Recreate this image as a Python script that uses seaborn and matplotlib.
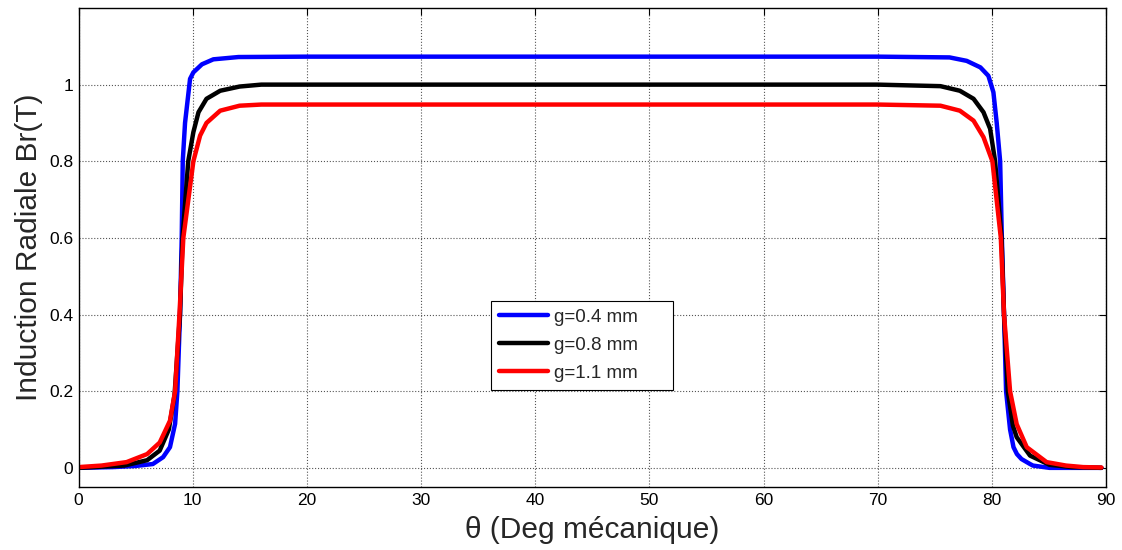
import pandas as pd
import matplotlib
matplotlib.use("Agg")
from matplotlib import pyplot as plt
import seaborn as sns

# Courbes (theta en degrés mécaniques, Br en T)
plateau_x = [20, 30, 40, 50, 60, 70]

x_04 = [0, 3, 5, 6.5, 7.4, 8.0, 8.45, 8.65, 8.88, 9.03, 9.12, 9.32, 9.76, 10.05,
        10.8, 11.8, 14] + plateau_x + [76.3, 77.8, 79.0, 79.7, 80.14, 80.43, 80.73,
        80.88, 81.07, 81.25, 81.6, 81.9, 82.2, 82.6, 83.35, 83.6, 85.05, 87, 89.6]
br_04 = [0.0, 0.002, 0.005, 0.01, 0.028, 0.054, 0.115, 0.2, 0.4, 0.6, 0.8, 0.9, 1.015, 1.032,
         1.053, 1.066, 1.072] + [1.073] * 6 + [1.071, 1.062, 1.045, 1.023, 0.98, 0.90, 0.80,
         0.6, 0.4, 0.2, 0.1, 0.054, 0.036, 0.023, 0.01, 0.006, 0.0, 0.0, 0.0]

x_08 = [0, 4, 6, 7.1, 7.9, 8.4, 8.88, 9.1, 9.6, 10.05, 10.5, 11.2, 12.4, 14.1, 16] + plateau_x + \
       [75.5, 77.2, 78.4, 79.27, 79.85, 80.29, 80.85, 81.07, 81.4, 81.85, 82.18, 83.35, 85.05, 87, 89.6]
br_08 = [0.0, 0.006, 0.02, 0.045, 0.10, 0.19, 0.4, 0.6, 0.8, 0.876, 0.928, 0.963, 0.984, 0.995, 1.0] + \
        [1.0] * 6 + [0.996, 0.984, 0.963, 0.928, 0.885, 0.8, 0.6, 0.4, 0.2, 0.11, 0.08, 0.032, 0.008, 0.002, 0.0]

x_11 = [0, 2, 4.2, 6, 7.1, 8.0, 8.45, 8.83, 9.17, 10.05, 10.64, 11.2, 12.4, 14.1, 16] + plateau_x + \
       [75.5, 77.2, 78.4, 79.27, 80.05, 80.79, 81.07, 81.6, 82.18, 83.06, 84.8, 86.5, 88, 89.6]
br_11 = [0.002, 0.006, 0.015, 0.036, 0.066, 0.123, 0.2, 0.4, 0.6, 0.8, 0.867, 0.90, 0.932, 0.945, 0.948] + \
        [0.948] * 6 + [0.945, 0.932, 0.906, 0.863, 0.8, 0.6, 0.4, 0.2, 0.114, 0.054, 0.015, 0.006, 0.002, 0.001]

noms = ["g=0.4 mm", "g=0.8 mm", "g=1.1 mm"]
couleurs = ["#0000ff", "#000000", "#ff0000"]

df = pd.concat([
    pd.DataFrame({"theta": x_04, "Br": br_04, "entrefer": noms[0]}),
    pd.DataFrame({"theta": x_08, "Br": br_08, "entrefer": noms[1]}),
    pd.DataFrame({"theta": x_11, "Br": br_11, "entrefer": noms[2]}),
])

sns.set_style("white")
plt.rcParams['font.family'] = ['Liberation Sans', 'DejaVu Sans']

fig = plt.figure(figsize=(11.22, 5.5), dpi=100)
ax = fig.add_axes([0.0701, 0.1145, 0.9156, 0.871])

sns.lineplot(x="theta", y="Br", hue="entrefer", data=df, palette=couleurs,
             hue_order=noms, linewidth=3.2, estimator=None, sort=True, ax=ax)

ax.set_xlim(0, 90)
ax.set_ylim(-0.05, 1.2)
ax.set_xticks(range(0, 91, 10))
ax.set_yticks([0, 0.2, 0.4, 0.6, 0.8, 1])
ax.set_yticklabels(["0", "0.2", "0.4", "0.6", "0.8", "1"])
ax.tick_params(direction="in", top=True, right=True, length=5, width=0.8,
               labelsize=12.5, colors="black", pad=4)
ax.grid(True, linestyle=":", color="#555555", linewidth=0.8)
for s in ax.spines.values():
    s.set_color("black")
    s.set_linewidth(1)

ax.set_xlabel("θ (Deg mécanique)", fontsize=21.5, labelpad=6)
ax.set_ylabel("Induction Radiale Br(T)", fontsize=21.5, labelpad=4)

leg = ax.legend(loc="upper left", bbox_to_anchor=(0.401, 0.2025, 0.178, 0.1865),
                mode="expand", borderaxespad=0, fontsize=13.5, frameon=True,
                fancybox=False, edgecolor="black", framealpha=1, handlelength=2.6,
                handletextpad=0.32, labelspacing=0.57, borderpad=0.44)
leg.get_frame().set_linewidth(0.8)

fig.savefig("out.png", dpi=100)
